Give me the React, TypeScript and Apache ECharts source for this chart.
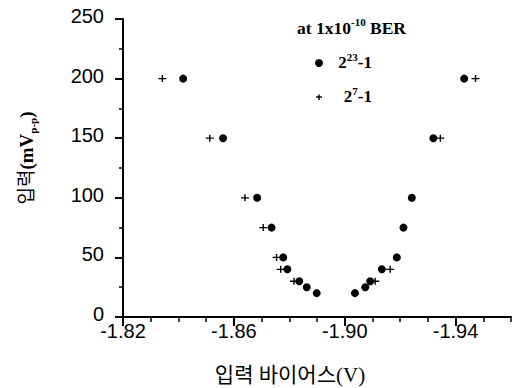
import React, { useEffect, useRef } from "react";
import * as echarts from "echarts";

// ---- data ----
const xTickValues = [-1.82, -1.86, -1.9, -1.94];
const yTickStep = 50;

// PRBS 2^23-1 (filled circles)
const prbs23X = [
  -1.8417, -1.8561, -1.8684, -1.8736, -1.8778, -1.8793, -1.8836, -1.8863, -1.8899,
  -1.9037, -1.9074, -1.9092, -1.9134, -1.9188, -1.9212, -1.9242, -1.932, -1.9431,
];
const prbs23Y = [200, 150, 100, 75, 50, 40, 30, 25, 20, 20, 25, 30, 40, 50, 75, 100, 150, 200];

// PRBS 2^7-1 (crosses)
const prbs7X = [-1.8342, -1.8513, -1.864, -1.8706, -1.8754, -1.8769, -1.8817, -1.911, -1.9164, -1.9345, -1.9472];
const prbs7Y = [200, 150, 100, 75, 50, 40, 30, 30, 40, 150, 200];

const SERIF = '"Liberation Serif", "Noto Sans CJK KR", serif';
const SANS = '"Liberation Sans", Arial, sans-serif';
const CROSS = "path://M0,3.1H8V4.5H0Z M3.3,0H4.7V7.6H3.3Z";

export default function App() {
  const ref = useRef<HTMLDivElement>(null);
  useEffect(() => {
    if (!ref.current) return;
    const chart = echarts.init(ref.current, null, { renderer: "svg" });
    const axisCommon = {
      type: "value" as const,
      min: -1.96,
      max: -1.82,
      inverse: true,
      splitLine: { show: false },
    };
    chart.setOption({
      animation: false,
      backgroundColor: "#fff",
      grid: { left: 123, right: 9, top: 19, bottom: 71, containLabel: false },
      xAxis: [
        {
          ...axisCommon,
          position: "bottom",
          interval: 0.02,
          axisLine: { show: true, onZero: false, lineStyle: { color: "#000", width: 2 } },
          axisTick: { show: true, customValues: xTickValues, length: 9, lineStyle: { color: "#000", width: 2 } },
          axisLabel: {
            show: true,
            customValues: xTickValues,
            formatter: (v: number) => v.toFixed(2),
            color: "#000",
            fontFamily: SANS,
            fontSize: 20,
            lineHeight: 18,
            margin: 5,
          },
        },
        {
          ...axisCommon,
          position: "bottom",
          interval: 0.01,
          axisLine: { show: false, onZero: false },
          axisTick: { show: true, length: 5, lineStyle: { color: "#000", width: 1.5 } },
          axisLabel: { show: false },
        },
      ],
      yAxis: {
        type: "value",
        min: 0,
        max: 250,
        interval: yTickStep,
        splitLine: { show: false },
        axisLine: { show: true, lineStyle: { color: "#000", width: 2 } },
        axisTick: { show: true, length: 8, lineStyle: { color: "#000", width: 2 } },
        minorTick: { show: true, splitNumber: 2, length: 4, lineStyle: { color: "#000", width: 1.5 } },
        axisLabel: {
          color: "#000",
          fontFamily: SANS,
          fontSize: 20,
          lineHeight: 6,
          verticalAlign: "bottom",
          margin: 19,
        },
      },
      series: [
        {
          name: "2^7-1",
          type: "scatter",
          xAxisIndex: 0,
          symbol: CROSS,
          symbolSize: [8, 7],
          itemStyle: { color: "#000", opacity: 1 },
          data: prbs7X.map((x, i) => [x, prbs7Y[i]]),
          z: 2,
        },
        {
          name: "2^23-1",
          type: "scatter",
          xAxisIndex: 0,
          symbol: "circle",
          symbolSize: 8,
          itemStyle: { color: "#000", opacity: 1 },
          data: prbs23X.map((x, i) => [x, prbs23Y[i]]),
          z: 3,
        },
      ],
      graphic: [
        {
          type: "text",
          x: 26,
          y: 158,
          rotation: Math.PI / 2,
          style: {
            text: "{k|입력}{l|(mV}{s|p-p}{l|)}",
            align: "center",
            verticalAlign: "middle",
            fill: "#000",
            rich: {
              k: { fontFamily: SERIF, fontSize: 19, fill: "#000", lineHeight: 24 },
              l: { fontFamily: SERIF, fontSize: 19, fontWeight: "bold", fill: "#000", lineHeight: 24 },
              s: { fontFamily: SERIF, fontSize: 11, fontWeight: "bold", fill: "#000", lineHeight: 24, verticalAlign: "bottom" },
            },
          },
        },
        {
          type: "text",
          x: 290,
          y: 375,
          style: {
            text: "입력 바이어스(V)",
            font: `21px ${SERIF}`,
            align: "center",
            verticalAlign: "middle",
            fill: "#000",
          },
        },
        {
          type: "text",
          x: 406,
          y: 28,
          style: {
            text: "{a|at 1x10}{s|-10}{a| BER}",
            align: "right",
            verticalAlign: "middle",
            fill: "#000",
            rich: {
              a: { fontFamily: SERIF, fontSize: 17.5, fontWeight: "bold", fill: "#000", lineHeight: 24 },
              s: { fontFamily: SERIF, fontSize: 11, fontWeight: "bold", fill: "#000", lineHeight: 24, verticalAlign: "top" },
            },
          },
        },
        { type: "circle", shape: { cx: 319, cy: 63, r: 4 }, style: { fill: "#000" } },
        {
          type: "text",
          x: 372,
          y: 62,
          style: {
            text: "{a|2}{s|23}{a|-1}",
            align: "right",
            verticalAlign: "middle",
            fill: "#000",
            rich: {
              a: { fontFamily: SERIF, fontSize: 17, fontWeight: "bold", fill: "#000", lineHeight: 22 },
              s: { fontFamily: SERIF, fontSize: 11, fontWeight: "bold", fill: "#000", lineHeight: 22, verticalAlign: "top" },
            },
          },
        },
        { type: "line", shape: { x1: 316, y1: 97, x2: 322, y2: 97 }, style: { stroke: "#000", lineWidth: 1.4 } },
        { type: "line", shape: { x1: 319, y1: 94.5, x2: 319, y2: 100 }, style: { stroke: "#000", lineWidth: 1.4 } },
        {
          type: "text",
          x: 372,
          y: 96,
          style: {
            text: "{a|2}{s|7}{a|-1}",
            align: "right",
            verticalAlign: "middle",
            fill: "#000",
            rich: {
              a: { fontFamily: SERIF, fontSize: 17, fontWeight: "bold", fill: "#000", lineHeight: 22 },
              s: { fontFamily: SERIF, fontSize: 11, fontWeight: "bold", fill: "#000", lineHeight: 22, verticalAlign: "top" },
            },
          },
        },
      ],
    });
    return () => chart.dispose();
  }, []);
  return (
    <div
      ref={ref}
      style={{ position: "fixed", left: 0, top: 0, width: 520, height: 388, background: "#fff" }}
    />
  );
}
